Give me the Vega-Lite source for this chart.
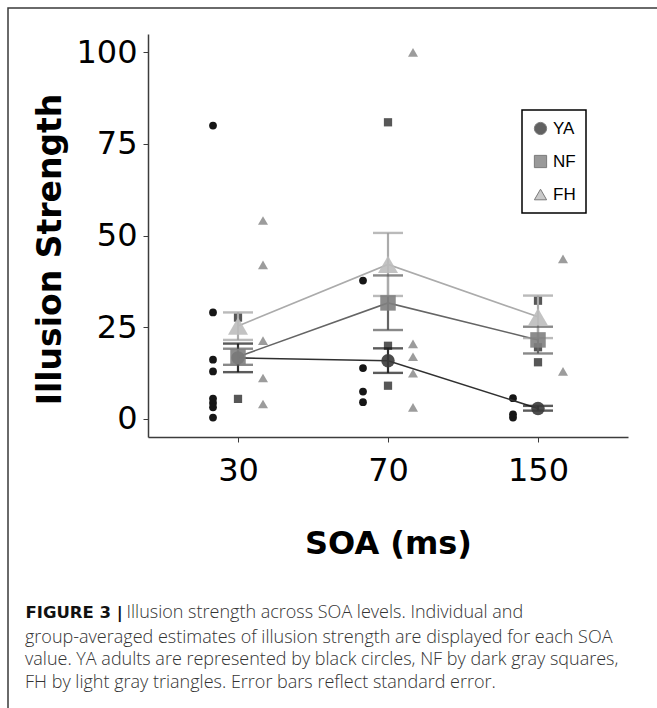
{
  "$schema": "https://vega.github.io/schema/vega-lite/v6.json",
  "width": 649,
  "height": 700,
  "autosize": "none",
  "padding": {"left": 8, "top": 8, "right": 0, "bottom": 0},
  "background": "white",
  "config": {
    "view": {"stroke": "#3a3a3a", "strokeWidth": 1.5, "strokeDash": [649, 1349, 700]},
    "axis": {"grid": false, "domainColor": "#3c3c3c", "domainWidth": 1.5, "tickColor": "#3c3c3c", "tickWidth": 1, "tickSize": 5, "labelFont": "DejaVu Sans", "labelFontSize": 32, "labelColor": "#000000", "titleFont": "DejaVu Sans", "titleFontSize": 32, "titleFontWeight": "bold", "titleColor": "#000000"}
  },
  "title": {
    "text": [
      "group-averaged estimates of illusion strength are displayed for each SOA",
      "value. YA adults are represented by black circles, NF by dark gray squares,",
      "FH by light gray triangles. Error bars reflect standard error."
    ],
    "orient": "bottom",
    "anchor": "start",
    "frame": "group",
    "offset": -79,
    "dx": 17,
    "font": "Open Sans",
    "fontSize": 18,
    "fontWeight": 300,
    "color": "#333333",
    "lineHeight": 22.4
  },
  "datasets": {
    "pts": [
      {"soa": 30, "group": "YA", "value": 80},
      {"soa": 30, "group": "YA", "value": 29},
      {"soa": 30, "group": "YA", "value": 16.1},
      {"soa": 30, "group": "YA", "value": 12.9},
      {"soa": 30, "group": "YA", "value": 5.5},
      {"soa": 30, "group": "YA", "value": 4.3},
      {"soa": 30, "group": "YA", "value": 3.1},
      {"soa": 30, "group": "YA", "value": 0.3},
      {"soa": 30, "group": "NF", "value": 27.6},
      {"soa": 30, "group": "NF", "value": 5.4},
      {"soa": 30, "group": "FH", "value": 54.1},
      {"soa": 30, "group": "FH", "value": 42.0},
      {"soa": 30, "group": "FH", "value": 21.3},
      {"soa": 30, "group": "FH", "value": 11.1},
      {"soa": 30, "group": "FH", "value": 4.0},
      {"soa": 70, "group": "YA", "value": 37.7},
      {"soa": 70, "group": "YA", "value": 13.8},
      {"soa": 70, "group": "YA", "value": 7.4},
      {"soa": 70, "group": "YA", "value": 4.5},
      {"soa": 70, "group": "NF", "value": 80.9},
      {"soa": 70, "group": "NF", "value": 19.9},
      {"soa": 70, "group": "NF", "value": 9.0},
      {"soa": 70, "group": "FH", "value": 100},
      {"soa": 70, "group": "FH", "value": 20.4},
      {"soa": 70, "group": "FH", "value": 16.9},
      {"soa": 70, "group": "FH", "value": 12.4},
      {"soa": 70, "group": "FH", "value": 3.1},
      {"soa": 150, "group": "YA", "value": 5.6},
      {"soa": 150, "group": "YA", "value": 1.2},
      {"soa": 150, "group": "YA", "value": 0.3},
      {"soa": 150, "group": "NF", "value": 32.2},
      {"soa": 150, "group": "NF", "value": 19.5},
      {"soa": 150, "group": "NF", "value": 15.4},
      {"soa": 150, "group": "FH", "value": 43.6},
      {"soa": 150, "group": "FH", "value": 12.9}
    ],
    "means": [
      {"soa": 30, "group": "YA", "mean": 16.6, "lo": 12.7, "hi": 20.5},
      {"soa": 30, "group": "NF", "mean": 16.9, "lo": 14.7, "hi": 19.1},
      {"soa": 30, "group": "FH", "mean": 25.3, "lo": 21.5, "hi": 29.0},
      {"soa": 70, "group": "YA", "mean": 15.8, "lo": 12.5, "hi": 19.2},
      {"soa": 70, "group": "NF", "mean": 31.6, "lo": 24.2, "hi": 39.1},
      {"soa": 70, "group": "FH", "mean": 42.1, "lo": 33.5, "hi": 50.7},
      {"soa": 150, "group": "YA", "mean": 2.8, "lo": 2.2, "hi": 3.5},
      {"soa": 150, "group": "NF", "mean": 21.5, "lo": 17.8, "hi": 25.1},
      {"soa": 150, "group": "FH", "mean": 27.8, "lo": 22.0, "hi": 33.6}
    ]
  },
  "layer": [
    {
      "data": {"name": "pts"},
      "mark": {"type": "point", "filled": true, "opacity": 1, "strokeWidth": 0},
      "encoding": {
        "x": {
          "field": "soa", "type": "ordinal",
          "scale": {"type": "point", "domain": [30, 70, 150], "range": [140, 620], "padding": 0.6},
          "axis": {"title": "SOA (ms)", "orient": "bottom", "offset": -271, "labelAngle": 0, "labelBaseline": "alphabetic", "labelPadding": 38, "titleBaseline": "alphabetic", "titleY": 116}
        },
        "y": {
          "field": "value", "type": "quantitative",
          "scale": {"domain": [-5, 105], "range": [429, 26], "nice": false, "zero": false},
          "axis": {"title": "Illusion Strength", "orient": "left", "offset": -140, "values": [0, 25, 50, 75, 100], "labelPadding": 6, "titleX": -88, "titleY": 241, "titleBaseline": "alphabetic", "titleAngle": -90, "titleFontSize": 33}
        },
        "xOffset": {"field": "group", "type": "nominal", "scale": {"type": "point", "domain": ["YA", "NF", "FH"], "range": [-25, 25], "padding": 0}},
        "shape": {"field": "group", "type": "nominal", "scale": {"domain": ["YA", "NF", "FH"], "range": ["circle", "square", "triangle-up"]}},
        "fill": {"field": "group", "type": "nominal", "scale": {"domain": ["FH", "NF", "YA"], "range": ["#9c9c9c", "#575757", "#161616"]}, "legend": null},
        "size": {"field": "group", "type": "nominal", "scale": {"type": "ordinal", "domain": ["FH", "YA", "NF"], "range": [100, 60, 68]}, "legend": null}
      }
    },
    {
      "data": {"name": "means"},
      "mark": {"type": "line", "strokeWidth": 1.6},
      "encoding": {
        "x": {
          "field": "soa", "type": "ordinal",
          "axis": {"orient": "top", "domain": false, "ticks": false, "labels": false, "title": "Illusion strength across SOA levels. Individual and", "titleX": 118, "titleY": 609, "titleAlign": "left", "titleAnchor": "start", "titleBaseline": "alphabetic", "titleAngle": 0, "titleFont": "Open Sans", "titleFontSize": 18, "titleFontWeight": 300, "titleColor": "#333333"}
        },
        "y": {"field": "mean", "type": "quantitative", "axis": null},
        "stroke": {"field": "group", "type": "nominal", "scale": {"domain": ["NF", "YA", "FH"], "range": ["#656565", "#303030", "#ababab"]}, "legend": null}
      }
    },
    {
      "data": {"name": "means"},
      "mark": {"type": "rule", "strokeWidth": 2.2},
      "encoding": {
        "x": {"field": "soa", "type": "ordinal", "axis": null},
        "y": {
          "field": "lo", "type": "quantitative",
          "axis": {"orient": "right", "domain": false, "ticks": false, "labels": false, "title": "FIGURE 3 |", "titleX": -632, "titleY": 609, "titleAlign": "left", "titleAnchor": "start", "titleBaseline": "alphabetic", "titleAngle": 0, "titleFont": "DejaVu Sans", "titleFontSize": 16.5, "titleFontWeight": "bold", "titleColor": "#111111"}
        },
        "y2": {"field": "hi"},
        "stroke": {"field": "group", "type": "nominal", "legend": null}
      }
    },
    {
      "data": {"name": "means"},
      "mark": {"type": "tick", "size": 30, "thickness": 2.4},
      "encoding": {
        "x": {"field": "soa", "type": "ordinal", "axis": null},
        "y": {"field": "lo", "type": "quantitative", "axis": null},
        "fill": {"field": "group", "type": "nominal", "legend": null}
      }
    },
    {
      "data": {"name": "means"},
      "mark": {"type": "tick", "size": 30, "thickness": 2.4},
      "encoding": {
        "x": {"field": "soa", "type": "ordinal", "axis": null},
        "y": {"field": "hi", "type": "quantitative", "axis": null},
        "fill": {"field": "group", "type": "nominal", "legend": null}
      }
    },
    {
      "data": {"name": "means"},
      "mark": {"type": "point", "filled": true, "opacity": 0.9, "strokeWidth": 0},
      "encoding": {
        "x": {"field": "soa", "type": "ordinal", "axis": null},
        "y": {"field": "mean", "type": "quantitative", "axis": null},
        "shape": {"field": "group", "type": "nominal"},
        "size": {"field": "group", "type": "nominal", "scale": {"type": "ordinal", "domain": ["NF", "FH", "YA"], "range": [240, 400, 180]}, "legend": null},
        "color": {
          "field": "group", "type": "nominal",
          "scale": {"domain": ["YA", "NF", "FH"], "range": ["#3a3a3a", "#808080", "#bdbdbd"]},
          "legend": {"title": null, "orient": "none", "legendX": 514, "legendY": 102, "strokeColor": "#000000", "padding": 10, "labelFont": "Liberation Sans", "labelFontSize": 17, "labelColor": "#000000", "symbolSize": 150, "symbolOpacity": 0.8, "rowPadding": 15, "labelOffset": 4, "symbolStrokeWidth": 1, "symbolStrokeColor": "#5a5a5a", "encode": {"legend": {"update": {"strokeWidth": {"value": 1.5}}}}}
        }
      }
    }
  ],
  "resolve": {"scale": {"size": "independent"}, "axis": {"x": "independent", "y": "independent"}}
}
